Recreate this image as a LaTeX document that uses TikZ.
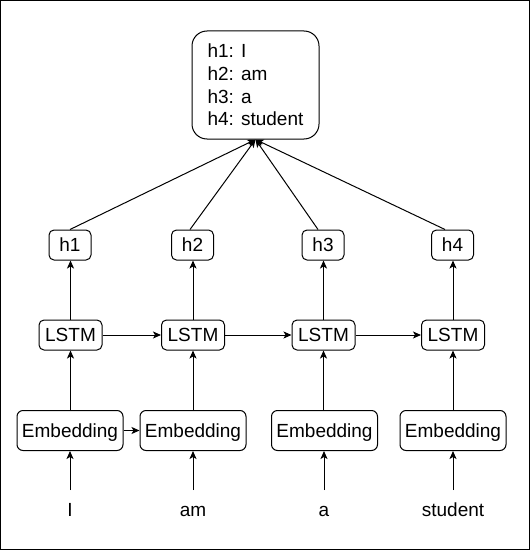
\documentclass[tikz,border=0pt]{standalone}
\usepackage{fontspec}
\setmainfont{Liberation Sans}
\usetikzlibrary{arrows.meta}
\tikzset{
  box/.style={draw=black, line width=1pt, rounded corners=5pt, inner sep=0pt,
    font=\fontsize{19}{22.8}\selectfont, text height=13.6pt, text depth=0pt},
  hbox/.style={box, minimum width=42pt, minimum height=30pt},
  lbox/.style={box, minimum width=63pt, minimum height=30pt},
  ebox/.style={box, minimum width=106pt, minimum height=40pt, rounded corners=6pt},
  word/.style={inner sep=0pt, font=\fontsize{19}{22.8}\selectfont, anchor=base},
  arr/.style={draw=black, line width=1pt, -{Stealth[length=8pt,width=7pt,inset=2pt]}}
}
\begin{document}
\begin{tikzpicture}[x=1pt,y=-1pt]
\useasboundingbox (0,0) rectangle (531,551);
\draw[line width=1pt] (0.5,0.5) rectangle (529.5,549.5);

\node[draw=black, line width=1pt, rounded corners=15pt, minimum width=127pt, minimum height=108pt,
  inner sep=0pt, align=left, font=\fontsize{19}{22.8}\selectfont] (top) at (255.5,85)
  {h1: I\\h2: am\\h3: a\\h4: student};

\node[hbox] (h1) at (70,245) {h1};
\node[hbox] (h2) at (192.5,245) {h2};
\node[hbox] (h3) at (323,245) {h3};
\node[hbox] (h4) at (452.5,245) {h4};

\node[lbox] (l1) at (70.5,335) {LSTM};
\node[lbox] (l2) at (193,335) {LSTM};
\node[lbox] (l3) at (323.5,335) {LSTM};
\node[lbox] (l4) at (453,335) {LSTM};

\node[ebox] (e1) at (70,430.5) {Embedding};
\node[ebox] (e2) at (193,430.5) {Embedding};
\node[ebox] (e3) at (324.5,430.5) {Embedding};
\node[ebox] (e4) at (453,430.5) {Embedding};

\node[word] (w1) at (70,516) {I};
\node[word] (w2) at (193,516) {am};
\node[word] (w3) at (324,516) {a};
\node[word] (w4) at (453,516) {student};

\coordinate (s1) at (70,490);
\coordinate (s2) at (193,490);
\coordinate (s3) at (324,490);
\coordinate (s4) at (453,490);

\draw[arr] (h1.north) -- (top.south);
\draw[arr] ([xshift=-2.5pt]h2.north) -- (top.south);
\draw[arr] ([xshift=-5pt]h3.north) -- (top.south);
\draw[arr] ([xshift=-7.5pt]h4.north) -- (top.south);

\foreach \i in {1,2,3,4} {
  \draw[arr] (l\i.north |- l\i.north) -- (l\i.north |- h\i.south);
  \draw[arr] (e\i.north -| l\i.north) -- (l\i.south);
  \draw[arr] (s\i) -- (s\i |- e\i.south);
}
\draw[arr] (l1) -- (l2);
\draw[arr] (l2) -- (l3);
\draw[arr] (l3) -- (l4);
\draw[arr] (e1) -- (e2);
\end{tikzpicture}
\end{document}
